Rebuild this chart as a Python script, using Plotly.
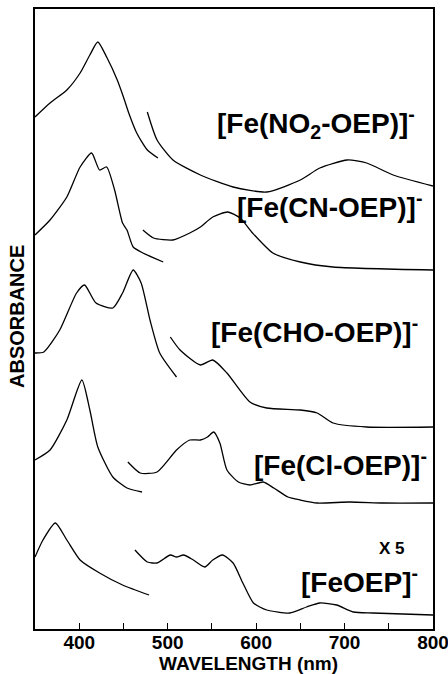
import plotly.graph_objects as go

# Wavelengths (nm) and absorbance (arbitrary offset units)
no2_soret_x = [350, 367, 386, 401, 412, 421, 431, 443, 450, 456, 465, 477, 489]
no2_soret_y = [512, 526, 539, 556, 574, 587, 572, 549, 532, 516, 496, 479, 471]
no2_vis_x = [477, 488, 506, 537, 574, 612, 650, 672, 703, 725, 755, 800]
no2_vis_y = [517, 489, 469, 454, 442, 437, 449, 461, 469, 466, 454, 443]

cn_soret_x = [350, 367, 386, 401, 414, 423, 431, 440, 449, 454, 461, 472, 495]
cn_soret_y = [394, 409, 432, 462, 476, 459, 462, 439, 406, 399, 382, 376, 367]
cn_vis_x = [472, 484, 506, 525, 537, 551, 568, 582, 596, 619, 650, 687, 800]
cn_vis_y = [399, 391, 389, 396, 402, 412, 417, 411, 396, 376, 367, 362, 359]

cho_soret_x = [350, 360, 378, 397, 406, 419, 438, 449, 461, 470, 480, 491, 510]
cho_soret_y = [276, 277, 299, 336, 344, 326, 321, 336, 359, 346, 309, 276, 252]
cho_vis_x = [503, 514, 537, 551, 567, 593, 612, 650, 669, 687, 725, 800]
cho_vis_y = [292, 279, 264, 269, 256, 227, 221, 219, 216, 206, 202, 202]

cl_soret_x = [350, 367, 386, 403, 412, 421, 438, 454, 471]
cl_soret_y = [169, 179, 209, 249, 219, 182, 152, 141, 137]
cl_vis_x = [455, 469, 488, 510, 525, 537, 545, 552, 559, 567, 580, 593, 608, 620, 636, 650, 669, 706, 744, 800]
cl_vis_y = [167, 156, 157, 179, 189, 189, 192, 197, 186, 159, 147, 144, 147, 141, 132, 129, 126, 127, 126, 126]

feoep_soret_x = [350, 359, 373, 386, 401, 423, 449, 479]
feoep_soret_y = [72, 89, 106, 89, 69, 56, 44, 34]
feoep_vis_x = [463, 477, 488, 503, 510, 518, 529, 542, 551, 562, 574, 585, 597, 612, 638, 657, 672, 691, 710, 732, 800]
feoep_vis_y = [79, 67, 66, 74, 72, 74, 69, 62, 69, 74, 66, 46, 26, 19, 16, 22, 26, 24, 17, 16, 14]

x_ticks = [400, 500, 600, 700, 800]

series = [
    (no2_soret_x, no2_soret_y), (no2_vis_x, no2_vis_y),
    (cn_soret_x, cn_soret_y), (cn_vis_x, cn_vis_y),
    (cho_soret_x, cho_soret_y), (cho_vis_x, cho_vis_y),
    (cl_soret_x, cl_soret_y), (cl_vis_x, cl_vis_y),
    (feoep_soret_x, feoep_soret_y), (feoep_vis_x, feoep_vis_y),
]

fig = go.Figure()
for xs, ys in series:
    fig.add_trace(go.Scatter(x=xs, y=ys, mode="lines",
                             line=dict(color="black", width=1.3, shape="spline", smoothing=0.6),
                             showlegend=False, hoverinfo="skip"))

FONT = "Liberation Sans, Arial, sans-serif"

def ann_px(text, px, py, size, angle=0, anchor="center"):
    fig.add_annotation(text=text, x=(px - 35) / 398, y=(629 - py) / 620, xref="paper", yref="paper",
                       showarrow=False, xanchor=anchor, yanchor="middle", textangle=angle,
                       font=dict(family=FONT, size=size, color="black"))

labels = [
    ("<b>[Fe(NO<sub>2</sub>-OEP)]<sup>-</sup></b>", 417, 123),
    ("<b>[Fe(CN-OEP)]<sup>-</sup></b>", 424, 205),
    ("<b>[Fe(CHO-OEP)]<sup>-</sup></b>", 420, 330),
    ("<b>[Fe(Cl-OEP)]<sup>-</sup></b>", 429, 463),
    ("<b>[FeOEP]<sup>-</sup></b>", 420, 580),
]
for txt, px, py in labels:
    ann_px(txt, px, py, 28, anchor="right")

ann_px("<b>X 5</b>", 392, 548, 17)
ann_px("<b>WAVELENGTH (nm)</b>", 248, 663, 19)
ann_px("<b>ABSORBANCE</b>", 17, 317, 20, angle=-90)

fig.update_layout(
    width=448, height=674,
    margin=dict(l=35, r=15, t=9, b=45, autoexpand=False),
    paper_bgcolor="white", plot_bgcolor="white",
    xaxis=dict(range=[350, 800], tickvals=x_ticks, ticktext=["<b>%d</b>" % v for v in x_ticks],
               ticks="inside", ticklen=6, tickwidth=1.2, tickcolor="black",
               minor=dict(dtick=50, tick0=350, ticks="inside", ticklen=6, tickwidth=1.2, tickcolor="black"),
               showline=True, linecolor="black", linewidth=1.5, mirror=True,
               showgrid=False, zeroline=False, ticklabeloverflow="allow", automargin=False,
               tickfont=dict(family=FONT, size=19, color="black"), ticklabelstandoff=-5),
    yaxis=dict(range=[0, 620], showticklabels=False, ticks="", automargin=False,
               showline=True, linecolor="black", linewidth=1.5, mirror=True,
               showgrid=False, zeroline=False),
)

fig.write_html("out.html")
